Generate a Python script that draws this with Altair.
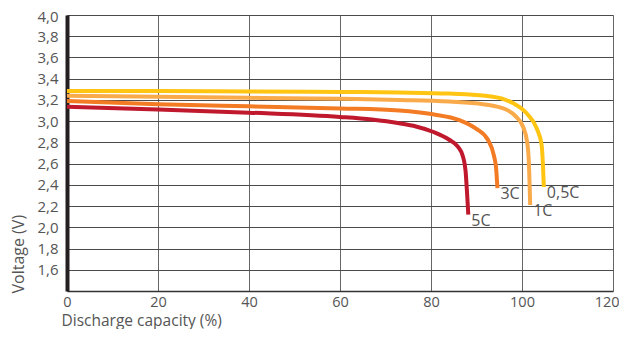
import altair as alt
import pandas as pd

series_names = ["0,5C", "1C", "3C", "5C"]
colors = ["#FFC512", "#F9AA4A", "#F37B24", "#C0182D"]

x_05 = [0, 20, 40, 60, 73, 84, 93.6, 98, 101, 103.2, 104.3, 104.6, 104.8]
v_05 = [3.285, 3.285, 3.28, 3.275, 3.27, 3.26, 3.23, 3.17, 3.075, 2.935, 2.78, 2.59, 2.38]

x_1 = [0, 20, 40, 60, 73, 84, 91.4, 96.5, 98.75, 100.2, 101.1, 101.5, 101.8]
v_1 = [3.24, 3.23, 3.22, 3.21, 3.20, 3.185, 3.16, 3.11, 3.04, 2.95, 2.81, 2.62, 2.21]

x_3 = [0, 20, 40, 60, 73, 80.4, 86.25, 89.9, 92.5, 93.8, 94.3, 94.6]
v_3 = [3.19, 3.16, 3.14, 3.12, 3.10, 3.065, 3.01, 2.93, 2.825, 2.68, 2.56, 2.37]

x_5 = [0, 20, 40, 60, 67, 73, 76.7, 80.4, 84.0, 85.9, 87.0, 87.6, 87.9, 88.2]
v_5 = [3.135, 3.11, 3.08, 3.04, 3.015, 2.98, 2.95, 2.90, 2.825, 2.76, 2.67, 2.53, 2.34, 2.12]

x_ticks = [0, 20, 40, 60, 80, 100, 120]
y_ticks = [1.6, 1.8, 2.0, 2.2, 2.4, 2.6, 2.8, 3.0, 3.2, 3.4, 3.6, 3.8, 4.0]

rows = []
for name, xs, vs in zip(series_names, [x_05, x_1, x_3, x_5], [v_05, v_1, v_3, v_5]):
    for i, (a, b) in enumerate(zip(xs, vs)):
        rows.append({"series": name, "cap": a, "v": b, "order": i})
df = pd.DataFrame(rows)

lab = pd.DataFrame({
    "series": series_names,
    "cap": [x_05[-1], x_1[-1], x_3[-1], x_5[-1]],
    "v": [v_05[-1], v_1[-1], v_3[-1], v_5[-1]],
})

FONT = "Open Sans"
TXT = "#555555"
FS = 15
TFS = 16

xscale = alt.Scale(domain=[0, 120], nice=False, zero=False)
yscale = alt.Scale(domain=[1.4, 4.0], nice=False, zero=False)
cscale = alt.Scale(domain=series_names, range=colors)

lines = alt.Chart(df).mark_line(strokeWidth=4, interpolate="monotone").encode(
    x=alt.X("cap:Q", scale=xscale,
            axis=alt.Axis(values=x_ticks, tickCount=20, title="Discharge capacity (%)",
                          ticks=False, labelPadding=4, grid=True,
                          gridColor="#666666", gridWidth=1,
                          domainColor="#333333", domainWidth=1.5,
                          labelOverlap=False,
                          labelAlign={"condition": {"test": "datum.value >= 120", "value": "right"}, "value": "center"},
                          labelOffset={"condition": {"test": "datum.value >= 120", "value": 6}, "value": 0},
                          labelFont=FONT, labelFontSize=14.5, labelColor=TXT,
                          titleFont=FONT, titleFontSize=15.5, titleColor=TXT,
                          titleFontWeight="normal", titleAnchor="start",
                          titleAlign="left", titleX=-6, titleY=37.5,
                          titleBaseline="bottom", labelFlush=False)),
    y=alt.Y("v:Q", scale=yscale,
            axis=alt.Axis(values=y_ticks, tickCount=20, title="Voltage (V)",
                          ticks=False, labelPadding=9, grid=True,
                          gridColor="#4a4a4a", gridWidth=1,
                          domainColor="#231f20", domainWidth=4,
                          labelOverlap=False,
                          labelBaseline={"condition": {"test": "datum.value >= 3.99", "value": "top"}, "value": "middle"},
                          labelOffset={"condition": {"test": "datum.value >= 3.99", "value": -6}, "value": 0},
                          labelExpr="replace(format(datum.value, '.1f'), '.', ',')",
                          labelFont=FONT, labelFontSize=FS, labelColor=TXT,
                          titleFont=FONT, titleFontSize=TFS, titleColor=TXT,
                          titleFontWeight="normal", titleAngle=270,
                          titleAlign="left", titleBaseline="middle",
                          titleX=-49, titleY=278, labelFlush=False)),
    color=alt.Color("series:N", scale=cscale, legend=None),
    order="order:Q",
    detail="series:N",
)

labels = alt.Chart(lab).mark_text(
    align="left", baseline="top", dx=3, dy=-2, font=FONT, fontSize=TFS, color=TXT
).encode(
    x=alt.X("cap:Q", scale=xscale),
    y=alt.Y("v:Q", scale=yscale),
    text="series:N",
)

chart = (lines + labels).properties(
    width=546, height=276,
    autosize=alt.AutoSizeParams(type="none"),
    padding={"left": 59, "top": 7, "right": 6, "bottom": 38},
).configure_view(strokeWidth=0).configure(background="white")

chart.save("out.html", embed_options={"renderer": "svg", "actions": False})
